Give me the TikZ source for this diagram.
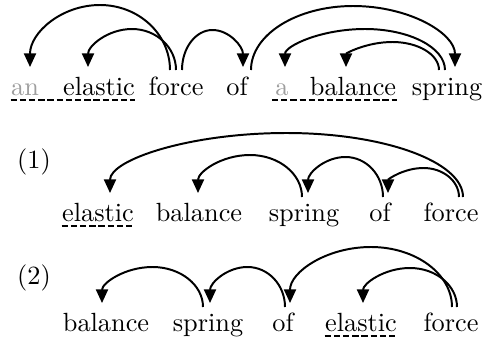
\documentclass[tikz,border=0pt]{standalone}
\usetikzlibrary{arrows.meta,calc}
\begin{document}
\begin{tikzpicture}[x=0.38pt,y=-0.38pt,
  word/.style={inner sep=0pt,anchor=base,font=\normalsize},
  faded/.style={text=black!38},
  dep/.style={line width=0.75pt,-{Triangle[length=5.2pt,width=4.6pt]}},
  uline/.style={line width=0.8pt,dash pattern=on 2.4pt off 1.1pt},
  label/.style={inner sep=0pt,anchor=base},
  arch/.style={to path={let \p1=(\tikztostart),\p2=(\tikztotarget) in
    .. controls (\x1,{\y1+0.552*#1*0.38pt}) and ({\x1-0.448*(\x1-\x2)/2},{\y1+#1*0.38pt}) .. ({(\x1+\x2)/2},{\y1+#1*0.38pt})
    .. controls ({\x2+0.448*(\x1-\x2)/2},{\y1+#1*0.38pt}) and (\x2,{\y2+0.552*(\y1+#1*0.38pt-\y2)}) .. (\tikztotarget)}}]
\useasboundingbox (0,0) rectangle (489,340);
% row 1
\node[word,faded] (an) at (25,95) {an};
\node[word] (elastic) at (99,95) {elastic};
\node[word] (force) at (176,95) {force};
\node[word] (of) at (237,95) {of};
\node[word,faded] (a) at (282,95) {a};
\node[word] (balance) at (353,95) {balance};
\node[word] (spring) at (447,95) {spring};
\draw[uline] ([shift={(0,5)}]an.base west) -- ([shift={(0,5)}]elastic.base east);
\draw[uline] ([shift={(-3,5)}]a.base west) -- ([shift={(0,5)}]balance.base east);
\draw[dep] ([shift={(-6,-25)}]force.base) to[arch=65] ([shift={(5,-28)}]an.base);
\draw[dep] ([shift={(0,-25)}]force.base) to[arch=41] ([shift={(-11,-28)}]elastic.base);
\draw[dep] ([shift={(6,-25)}]force.base) to[arch=40] ([shift={(6,-28)}]of.base);
\draw[dep] ([shift={(14,-25)}]of.base) to[arch=64] ([shift={(8,-28)}]spring.base);
\draw[dep] ([shift={(-2,-25)}]spring.base) to[arch=41] ([shift={(3,-28)}]a.base);
\draw[dep] ([shift={(-8,-25)}]spring.base) to[arch=28] ([shift={(-7,-28)}]balance.base);
% row 2
\node[label] (l1) at (34,168) {(1)};
\node[word] (e2) at (98,221) {elastic};
\node[word] (b2) at (199,221) {balance};
\node[word] (s2) at (304,221) {spring};
\node[word] (o2) at (380,221) {of};
\node[word] (f2) at (451,221) {force};
\draw[uline] ([shift={(0,5)}]e2.base west) -- ([shift={(0,5)}]e2.base east);
\draw[dep] ([shift={(12,-24)}]f2.base) to[arch=64] ([shift={(12,-28)}]e2.base);
\draw[dep] ([shift={(8,-24)}]f2.base) to[arch=29] ([shift={(8,-28)}]o2.base);
\draw[dep] ([shift={(3,-24)}]o2.base) to[arch=40] ([shift={(4,-28)}]s2.base);
\draw[dep] ([shift={(-2,-24)}]s2.base) to[arch=42] ([shift={(-1,-28)}]b2.base);
% row 3
\node[label] (l2) at (34,284) {(2)};
\node[word] (b3) at (106,331) {balance};
\node[word] (s3) at (208,331) {spring};
\node[word] (o3) at (283,331) {of};
\node[word] (e3) at (361,331) {elastic};
\node[word] (f3) at (451,331) {force};
\draw[uline] ([shift={(0,5)}]e3.base west) -- ([shift={(0,5)}]e3.base east);
\draw[dep] ([shift={(-5,-24)}]s3.base) to[arch=40] ([shift={(-4,-28)}]b3.base);
\draw[dep] ([shift={(2,-24)}]o3.base) to[arch=40] ([shift={(2,-28)}]s3.base);
\draw[dep] ([shift={(1,-24)}]f3.base) to[arch=60] ([shift={(7,-28)}]o3.base);
\draw[dep] ([shift={(6,-24)}]f3.base) to[arch=39] ([shift={(2,-28)}]e3.base);
\end{tikzpicture}
\end{document}
